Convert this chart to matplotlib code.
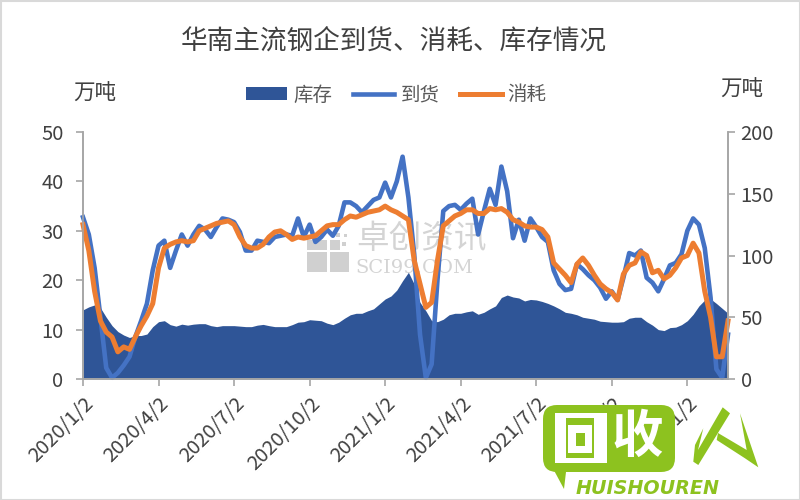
import matplotlib
matplotlib.use("Agg")
import matplotlib.pyplot as plt
from matplotlib.patches import FancyBboxPatch, Polygon, Rectangle, Patch
from matplotlib.lines import Line2D

plt.rcParams['font.family'] = ['Noto Sans CJK SC', 'DejaVu Sans']

title = '华南主流钢企到货、消耗、库存情况'
tick_labels = ['2020/1/2', '2020/4/2', '2020/7/2', '2020/10/2', '2021/1/2',
               '2021/4/2', '2021/7/2', '2021/10/2', '2022/1/2']

inventory = [14.0, 14.6, 15.0, 14.4, 12.5, 10.8, 9.6, 8.9, 8.4, 8.8, 8.8, 9.1, 10.6, 11.6, 11.8, 11.0,
             10.7, 11.1, 10.9, 11.1, 11.2, 11.2, 10.8, 10.6, 10.8, 10.8, 10.8, 10.7, 10.6, 10.6, 10.9, 11.05,
             10.8, 10.6, 10.6, 10.6, 11.0, 11.5, 11.6, 12.0, 11.9, 11.8, 11.3, 11.0, 11.5, 12.3, 13.0, 13.3,
             13.3, 13.8, 14.2, 15.2, 16.2, 16.8, 18.0, 19.9, 21.6, 19.2, 15.5, 13.8, 11.8, 11.6, 12.1, 13.0,
             13.3, 13.3, 13.6, 13.8, 13.1, 13.5, 14.2, 14.8, 16.5, 17.0, 16.6, 16.4, 15.8, 16.1, 16.0, 15.7,
             15.3, 14.8, 14.2, 13.5, 13.3, 13.0, 12.5, 12.3, 12.1, 11.7, 11.6, 11.5, 11.5, 11.6, 12.3, 12.5,
             12.5, 11.6, 10.9, 10.0, 9.8, 10.4, 10.5, 11.0, 11.8, 13.1, 14.8, 16.0, 16.2, 15.3, 14.3, 13.3]

arrivals = [131, 117, 90, 50, 9, 1, 5, 11, 18, 34, 47, 61, 88, 108, 112, 90,
            104, 117, 108, 117, 124, 121, 115, 123, 130, 129, 127, 119, 104, 104, 112, 111,
            110, 115, 116, 117, 116, 130, 115, 125, 111, 115, 121, 116, 124, 143, 143, 140,
            135, 140, 145, 147, 159, 147, 160, 180, 147, 101, 36, 1, 12, 80, 136, 140,
            141, 137, 142, 146, 117, 136, 154, 141, 172, 152, 114, 129, 112, 130, 123, 115,
            111, 88, 77, 72, 73, 93, 89, 84, 80, 74, 65, 71, 64, 82, 102, 100,
            104, 82, 78, 71, 81, 92, 94, 101, 120, 130, 125, 106, 66, 8, 1, 36]

consumption = [125, 104, 71, 47, 38, 34, 22, 26, 24, 34, 43, 51, 61, 90, 106, 109,
               111, 112, 111, 112, 120, 122, 124, 126, 127, 128, 125, 115, 108, 106, 106, 109,
               115, 119, 120, 117, 113, 115, 114, 115, 116, 120, 124, 125, 125, 129, 132, 131,
               133, 135, 136, 137, 140, 137, 135, 132, 129, 96, 77, 58, 62, 96, 124, 128,
               132, 134, 137, 137, 134, 134, 138, 137, 138, 135, 129, 127, 124, 123, 123, 121,
               115, 94, 89, 84, 78, 93, 98, 92, 84, 77, 73, 70, 64, 85, 92, 94,
               103, 100, 86, 88, 81, 84, 90, 98, 100, 110, 102, 71, 50, 18, 18, 47]

C_AREA, C_BLUE, C_ORANGE = '#2f5597', '#4472c4', '#ed7d31'
GREY, TXT, LOGO = '#a6a6a6', '#404040', '#8dc21f'

W, H = 800, 500
fig = plt.figure(figsize=(8, 5), dpi=100, facecolor='white')

# under-layer: frame and watermark
under = fig.add_axes([0, 0, 1, 1], zorder=0)
under.set_xlim(0, W); under.set_ylim(H, 0); under.axis('off')
under.add_patch(Rectangle((0.5, 0.5), W - 1, H - 1, fill=False, ec='#d9d9d9', lw=1.5))
wm = '#d0d0d0'
for (x0, y0, w, h) in [(307, 252, 20, 20), (330, 252, 19, 20), (307, 240, 20, 10), (330, 240, 10, 10),
                       (342, 242, 4, 4), (336, 233, 4, 4), (344, 234, 3, 3)]:
    under.add_patch(Rectangle((x0, y0), w, h, fc=wm, ec='none'))
under.text(356, 239, '卓创资讯', fontsize=23.5, color='#d4d4d4', va='center', ha='left')
under.text(355, 268, 'SCI99.COM', fontsize=14, color='#d4d4d4', va='center', ha='left',
           family='DejaVu Serif')

# main axes
L, R, T, B = 83, 728, 132, 379
ax = fig.add_axes([L / W, 1 - B / H, (R - L) / W, (B - T) / H], zorder=2)
ax.patch.set_alpha(0)
x = list(range(len(inventory)))
ax.fill_between(x, inventory, 0, color=C_AREA, lw=0)
ax.set_xlim(0, len(x) - 1)
ax.set_ylim(0, 50)
ax.set_yticks([0, 10, 20, 30, 40, 50])
ax.set_xticks(x[::13])
ax.set_xticklabels(tick_labels, rotation=45, ha='right', rotation_mode='anchor')

ax2 = ax.twinx()
ax2.patch.set_alpha(0)
ax2.plot(x, arrivals, color=C_BLUE, lw=3.3, solid_joinstyle='round', clip_on=False)
ax2.plot(x, consumption, color=C_ORANGE, lw=3.6, solid_joinstyle='round', clip_on=False)
ax2.set_ylim(0, 200)
ax2.set_yticks([0, 50, 100, 150, 200])

for a in (ax, ax2):
    a.spines['top'].set_visible(False)
    for s in ('left', 'right', 'bottom'):
        a.spines[s].set_color(GREY)
        a.spines[s].set_linewidth(1.2)
    a.tick_params(axis='both', colors=GREY, labelcolor=TXT, labelsize=14.5, length=5, width=1.2, pad=4)
ax.tick_params(axis='y', pad=9)
ax.tick_params(axis='x', pad=5)

# text
fig.text(394 / W, 1 - 42 / H, title, fontsize=19.2, color=TXT, ha='center', va='center')
fig.text(95 / W, 1 - 94 / H, '万吨', fontsize=15.5, color=TXT, ha='center', va='center')
fig.text(742 / W, 1 - 90 / H, '万吨', fontsize=15.5, color=TXT, ha='center', va='center')

handles = [Patch(fc=C_AREA, ec='none'),
           Line2D([], [], color=C_BLUE, lw=3.3),
           Line2D([], [], color=C_ORANGE, lw=3.6)]
fig.legend(handles, ['库存', '到货', '消耗'], loc='center', bbox_to_anchor=(396 / W, 1 - 95 / H),
           ncol=3, frameon=False, fontsize=14, labelcolor='#595959', handlelength=2.15,
           handleheight=0.6, handletextpad=0.3, columnspacing=1.05, borderpad=0)

# top-layer: site logo
top = fig.add_axes([0, 0, 1, 1], zorder=5)
top.set_xlim(0, W); top.set_ylim(H, 0); top.axis('off')
top.add_patch(FancyBboxPatch((543, 405), 132, 67, boxstyle='round,pad=0,rounding_size=14', fc=LOGO, ec='none'))
top.add_patch(Polygon([(543, 450), (564, 489), (566, 472), (590, 472)], fc=LOGO, ec='none'))
for (x0, y0, x1, y1, c) in [(555, 413, 607, 463, 'white'), (566, 418, 594, 458, LOGO),
                            (568, 425, 592, 453, 'white'), (576, 433, 585, 446, LOGO)]:
    top.add_patch(Rectangle((x0, y0), x1 - x0, y1 - y0, fc=c, ec='none'))
top.text(637, 436, '收', fontsize=37, fontweight='bold', color='white', ha='center', va='center')
top.text(648, 488, 'HUISHOUREN', fontsize=13.8, fontweight='bold', style='oblique', color=LOGO,
         ha='center', va='center', family='DejaVu Sans')
top.add_patch(Polygon([(722.7, 407.3), (730, 413.3), (698.3, 465), (693.3, 461.7), (695, 445),
                       (703.3, 428.3), (698, 450)], fc=LOGO, ec='none'))
top.add_patch(Polygon([(718, 433), (746.7, 450), (740, 413.3), (758.3, 467.3), (745, 458.3), (716.7, 440)],
                      fc=LOGO, ec='none'))

fig.savefig('out.png', dpi=100)
